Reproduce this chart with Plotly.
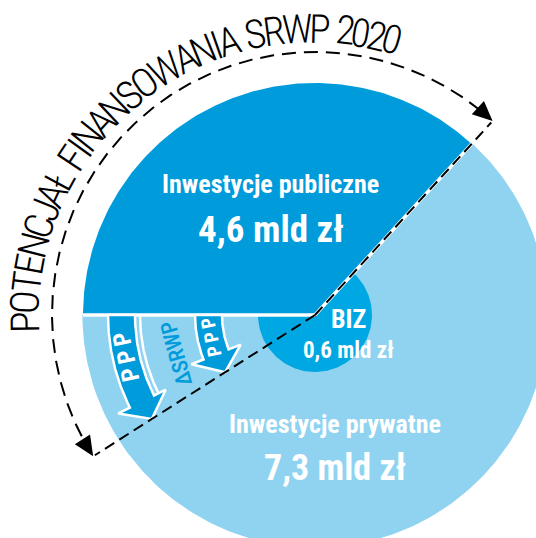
import numpy as np
import plotly.graph_objects as go

# Potential funding of SRWP 2020, mld zł
segments = ["Inwestycje publiczne", "Inwestycje prywatne", "BIZ"]
amounts = [4.6, 7.3, 0.6]
amount_labels = ["4,6 mld zł", "7,3 mld zł", "0,6 mld zł"]
flow_labels = ["PPP", "ΔSRWP", "PPP"]
title_text = "POTENCJAŁ FINANSOWANIA SRWP 2020"

# ---- styling / layout constants -------------------------------------------
W, H = 536, 538
CX, CY = 315, 315          # pie centre (pixel space)
R = 232                    # pie radius
R_BIZ = 57                 # inner BIZ disc
R_ARC = 263                # dashed bracket radius
R_TITLE = 288
TITLE_C = (313, 317)
START_DEG = 180            # first slice starts at 9 o'clock, runs clockwise
ARROW_END_DEG = 212.5      # lower bracket line / arrow tips

DARK = "#009BDB"
LIGHT = "#8FD3F1"
BIZ_C = "#00A8E3"
COND = "Roboto Condensed, Open Sans Condensed, sans-serif"
COND_LIGHT = "Roboto Condensed Light, Roboto Condensed, sans-serif"


def pt(r, deg, c=(CX, CY)):
    t = np.radians(deg)
    return c[0] + r * np.cos(t), c[1] - r * np.sin(t)


def arc(r, d0, d1, n=200, c=(CX, CY)):
    d = np.linspace(d0, d1, n)
    return pt(r, d, c)


fig = go.Figure()


def poly(xs, ys, fill, line_color=None, line_width=0.0):
    fig.add_trace(go.Scatter(
        x=list(xs), y=list(ys), mode="lines", fill="toself", fillcolor=fill,
        line=dict(color=line_color or fill, width=line_width),
        hoverinfo="skip", showlegend=False))


def line(xs, ys, color, width, dash=None):
    fig.add_trace(go.Scatter(
        x=list(xs), y=list(ys), mode="lines",
        line=dict(color=color, width=width, dash=dash),
        hoverinfo="skip", showlegend=False))


# ---- slices: angles come from the amounts -----------------------------------
total = sum(amounts)
spans = [360 * a / total for a in amounts]
bounds = [START_DEG]
for s in spans:
    bounds.append(bounds[-1] - s)
slice_colors = [DARK, LIGHT, LIGHT]

# light slices first (private + BIZ share), then BIZ disc, then public slice
for i in (1, 2):
    ax_, ay_ = arc(R, bounds[i], bounds[i + 1])
    poly([CX, *ax_, CX], [CY, *ay_, CY], slice_colors[i], slice_colors[i], 1.2)

bx, by = arc(R_BIZ, 0, 360)
poly(bx, by, BIZ_C)

ax_, ay_ = arc(R, bounds[0], bounds[1])
poly([CX, *ax_, CX], [CY, *ay_, CY], slice_colors[0])

# white slice borders
x0, y0 = pt(R, bounds[0])
line([x0, CX], [y0, CY], "white", 3.5)
x1, y1 = pt(R, bounds[1])
line([CX, x1], [CY, y1], "white", 3.5)


# ---- flow arrows (public -> private) ----------------------------------------
def arrow_shape(r_in, r_out, head_len=20, barb=13):
    rm = (r_in + r_out) / 2
    th_h = ARROW_END_DEG - np.degrees(head_len / rm)
    ox, oy = arc(r_out, START_DEG, th_h, 80)
    ix, iy = arc(r_in, th_h, START_DEG, 80)
    b1 = pt(r_out + barb, th_h)
    tip = pt(rm, ARROW_END_DEG)
    b2 = pt(r_in - barb, th_h)
    xs = [*ox, b1[0], tip[0], b2[0], *ix, ox[0]]
    ys = [*oy, b1[1], tip[1], b2[1], *iy, oy[0]]
    return xs, ys


# outline of the middle (ΔSRWP) band
mx, my = arc(175, START_DEG, 207, 60)
line(mx, my, "white", 2.5)

arrow_radii = [(180, 207), (93, 120)]
for r_in, r_out in arrow_radii:
    xs, ys = arrow_shape(r_in, r_out)
    poly(xs, ys, DARK, "white", 2.5)

# ---- dashed bracket ---------------------------------------------------------
end_hi = bounds[1]
end_lo = ARROW_END_DEG
head_len, head_half = 20, 9

ax_, ay_ = arc(R_ARC, end_hi + 3.5, end_lo - 3.5, 300)
line(ax_, ay_, "black", 2, "14px,8px")


def arrow_head(deg, direction):
    tip = np.array(pt(R_ARC, deg))
    t = np.radians(deg)
    if direction == "cw":
        d = np.array([np.sin(t), np.cos(t)])
    else:
        d = np.array([-np.sin(t), -np.cos(t)])
    nrm = np.array([-d[1], d[0]])
    base = tip - head_len * d
    p1 = base + head_half * nrm
    p2 = base - head_half * nrm
    poly([tip[0], p1[0], p2[0], tip[0]], [tip[1], p1[1], p2[1], tip[1]], "black")


arrow_head(end_hi, "cw")
arrow_head(end_lo, "ccw")

# radial dashed lines
xh, yh = pt(R_ARC - 2, end_hi)
line([CX, xh], [CY, yh], "black", 2, "11px,6px")
xl, yl = pt(R_ARC - 2, end_lo)
line([CX, xl], [CY, yl], "black", 2, "11px,6px")

# ---- texts ------------------------------------------------------------------
ann = []


def label(x, y, text, size, color="white", angle=0, weight="bold", family=COND):
    ann.append(dict(x=x, y=y, xref="x", yref="y", text=text, showarrow=False,
                    xanchor="center", yanchor="middle", textangle=angle,
                    font=dict(family=family, size=size, color=color, weight=weight)))


label(270, 184, segments[0], 26)
label(271, 229, amount_labels[0], 37)
label(335, 424, segments[1], 26)
label(335, 468, amount_labels[1], 36)
label(348, 319, segments[2], 26)
label(348, 350, amount_labels[2], 23)

# texts inside the arrows, set along the arc (letter-spaced with thin spaces)
flow_pos = [(193.5, 192.5, 24, "white", "bold"),
            (144, 195.5, 22, DARK, 500),
            (106.5, 192.0, 19, "white", "bold")]
for txt, (r, d, size, col, wt) in zip(flow_labels, flow_pos):
    x, y = pt(r, d)
    shown = "\u2009".join(txt) if txt == "PPP" else txt
    label(x, y, shown, size, col, 90 - d, wt)

# curved title, one glyph at a time
glyph_w = {"P": 667, "O": 778, "T": 611, "E": 667, "N": 722, "C": 722, "J": 500,
           "A": 667, "Ł": 556, " ": 278, "F": 611, "I": 278, "S": 667, "W": 944,
           "R": 722, "2": 556, "0": 556}
w = np.array([glyph_w.get(ch, 600) for ch in title_text], dtype=float)
centres = np.cumsum(w) - w / 2
frac = (centres - centres[0]) / (centres[-1] - centres[0])
t_start, t_end = 181.0, 74.2
for ch, f in zip(title_text, frac):
    if ch == " ":
        continue
    d = t_start - f * (t_start - t_end)
    x, y = pt(R_TITLE, d, TITLE_C)
    label(x, y, ch, 40, "black", 90 - d, "normal", COND_LIGHT)

fig.update_layout(
    width=W, height=H, margin=dict(l=0, r=0, t=0, b=0),
    paper_bgcolor="white", plot_bgcolor="white",
    xaxis=dict(range=[0, W], visible=False, fixedrange=True),
    yaxis=dict(range=[H, 0], visible=False, fixedrange=True),
    annotations=ann, showlegend=False,
)

fig.write_html("out.html")
